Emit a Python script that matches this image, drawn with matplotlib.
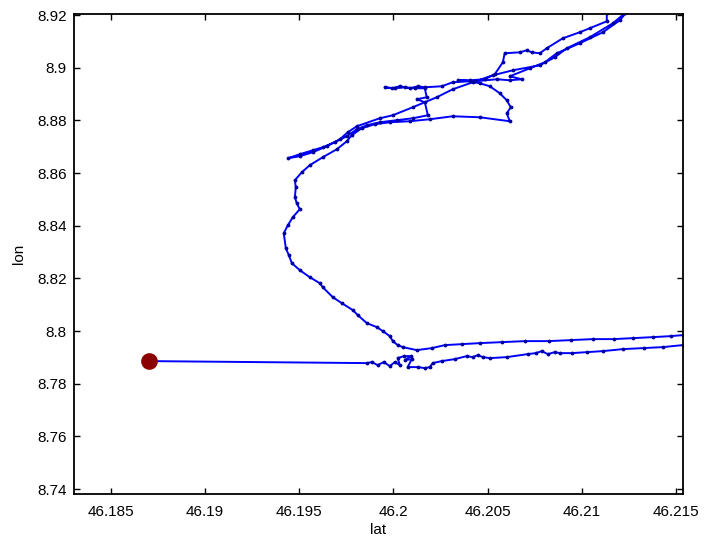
import numpy as np
import matplotlib
matplotlib.use('Agg')
import matplotlib.pyplot as plt
from matplotlib.ticker import FormatStrFormatter

plt.rcParams['font.family'] = ['Liberation Sans', 'DejaVu Sans']
plt.rcParams['font.size'] = 11

# trace GPS (lat, lon)
lat = [46.18702, 46.19859, 46.19885, 46.19917, 46.19949, 46.19981, 46.20008, 46.20034,
       46.20023, 46.20055, 46.20092, 46.20061, 46.20098, 46.20076, 46.20130, 46.20167,
       46.20193, 46.20209, 46.20257, 46.20326, 46.20390, 46.20421, 46.20448, 46.20475,
       46.20512, 46.20602, 46.20713, 46.20756, 46.20788, 46.20820, 46.20857, 46.20883,
       46.20947, 46.21027, 46.21112, 46.21218, 46.21329, 46.21430, 46.21536, 46.21626,
       # retour
       46.21626, 46.21536, 46.21472, 46.21377, 46.21271, 46.21170, 46.21058, 46.20942,
       46.20825, 46.20698, 46.20575, 46.20459, 46.20363, 46.20273, 46.20204, 46.20124,
       46.20050, 46.20023, 46.19997, 46.19981, 46.19944, 46.19912, 46.19859, 46.19811,
       46.19785, 46.19726, 46.19678, 46.19625, 46.19609, 46.19556, 46.19503, 46.19461,
       46.19445, 46.19429, 46.19418, 46.19440, 46.19466, 46.19503, 46.19487, 46.19477,
       46.19482, 46.19477, 46.19514, 46.19556, 46.19625, 46.19700, 46.19753, 46.19779,
       46.19832, 46.19901, 46.19981, 46.20087, 46.20193, 46.20315, 46.20459, 46.20618,
       46.20602, 46.20623, 46.20602, 46.20565, 46.20512, 46.20459, 46.20406, 46.20315,
       46.20257, 46.20167, 46.20130, 46.20087, 46.20034, 46.19992, 46.19954, 46.20008,
       46.20061, 46.20114, 46.20167, 46.20177, 46.20124, 46.20167, 46.20183, 46.20103,
       46.20018, 46.19928, 46.19859, 46.19806, 46.19753, 46.19689, 46.19625, 46.19572,
       46.19503, 46.19440, 46.19503, 46.19572, 46.19647, 46.19716, 46.19758, 46.19806,
       46.19928, 46.19997, 46.20103, 46.20230, 46.20315, 46.20421, 46.20528, 46.20634,
       46.20777, 46.20857, 46.20920, 46.21042, 46.21165, 46.21228, 46.21281,
       46.21159, 46.21133, 46.21133, 46.21042, 46.20989, 46.20899, 46.20814, 46.20777,
       46.20735, 46.20708, 46.20671, 46.20591, 46.20581, 46.20538, 46.20485, 46.20406,
       46.20342, 46.20432, 46.20549, 46.20618, 46.20682, 46.20618, 46.20724, 46.20804,
       46.20867, 46.20989, 46.21112, 46.21202, 46.21255]
lon = [8.78858, 8.78782, 8.78820, 8.78706, 8.78820, 8.78668, 8.78820, 8.78706,
       8.78971, 8.79047, 8.79047, 8.78896, 8.78934, 8.78630, 8.78630, 8.78592,
       8.78630, 8.78782, 8.78858, 8.78934, 8.79047, 8.79009, 8.79085, 8.79009,
       8.78971, 8.79009, 8.79123, 8.79161, 8.79237, 8.79123, 8.79199, 8.79161,
       8.79161, 8.79199, 8.79237, 8.79313, 8.79351, 8.79389, 8.79465, 8.79541,
       # retour
       8.79882, 8.79844, 8.79806, 8.79768, 8.79730, 8.79693, 8.79693, 8.79655,
       8.79617, 8.79617, 8.79579, 8.79541, 8.79503, 8.79465, 8.79351, 8.79275,
       8.79389, 8.79465, 8.79617, 8.79806, 8.79996, 8.80148, 8.80300, 8.80603,
       8.80793, 8.81059, 8.81286, 8.81666, 8.81818, 8.82045, 8.82311, 8.82577,
       8.82880, 8.83146, 8.83715, 8.84019, 8.84322, 8.84626, 8.84854, 8.85081,
       8.85461, 8.85727, 8.86030, 8.86296, 8.86599, 8.86903, 8.87207, 8.87434,
       8.87700, 8.87852, 8.87928, 8.87966, 8.88042, 8.88155, 8.88117, 8.87966,
       8.88269, 8.88497, 8.88763, 8.89028, 8.89294, 8.89408, 8.89484, 8.89446,
       8.89294, 8.89256, 8.89294, 8.89218, 8.89294, 8.89218, 8.89256, 8.89218,
       8.89256, 8.89218, 8.89218, 8.88876, 8.88801, 8.88687, 8.88193, 8.88079,
       8.88004, 8.87928, 8.87814, 8.87662, 8.87396, 8.87169, 8.86979, 8.86865,
       8.86713, 8.86561, 8.86637, 8.86789, 8.87017, 8.87283, 8.87548, 8.87776,
       8.88079, 8.88193, 8.88497, 8.88876, 8.89180, 8.89446, 8.89711, 8.89901,
       8.90091, 8.90394, 8.90736, 8.91153, 8.91685, 8.92064, 8.92368,
       8.92368, 8.92064, 8.91761, 8.91495, 8.91343, 8.91115, 8.90736, 8.90546,
       8.90584, 8.90660, 8.90584, 8.90546, 8.90205, 8.89749, 8.89560, 8.89522,
       8.89522, 8.89484, 8.89560, 8.89522, 8.89560, 8.89673, 8.89977, 8.90205,
       8.90546, 8.90926, 8.91343, 8.91799, 8.92254]

# position de depart
depart_lat = 46.18702
depart_lon = 8.78858

fig = plt.figure(figsize=(7.04, 5.37), dpi=100)
ax = fig.add_axes([0.105, 0.080, 0.865, 0.894])

ax.plot(lat, lon, '-', color='#0000ff', linewidth=1.4, marker='.', markersize=3.5,
        markerfacecolor='#0000a0', markeredgecolor='#0000a0')
ax.plot(depart_lat, depart_lon, 'o', color='#8b0000', markersize=11)

ax.set_xlim(46.18304, 46.21537)
ax.set_ylim(8.7381, 8.9204)
ax.set_xticks(np.arange(46.185, 46.2151, 0.005))
ax.set_yticks(np.arange(8.74, 8.9201, 0.02))
ax.xaxis.set_major_formatter(FormatStrFormatter('%g'))
ax.yaxis.set_major_formatter(FormatStrFormatter('%g'))
ax.tick_params(direction='in', top=True, right=True, length=4, width=1, pad=5)
ax.tick_params(axis='x', pad=8)
for s in ax.spines.values():
    s.set_linewidth(1.3)

ax.set_xlabel('lat', labelpad=3)
ax.set_ylabel('lon', labelpad=8)

fig.savefig('out.png', dpi=100)
